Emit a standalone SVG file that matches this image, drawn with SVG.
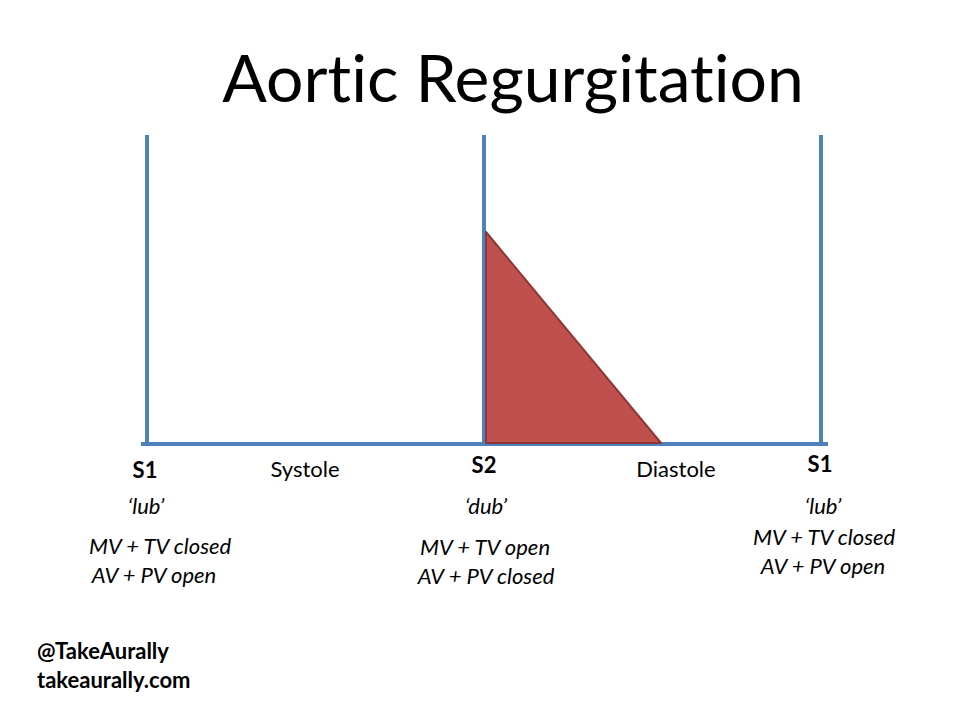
<svg xmlns="http://www.w3.org/2000/svg" width="960" height="720" viewBox="0 0 960 720">
<style>
.t{font-family:Lato,"Open Sans","Liberation Sans",sans-serif;fill:#000;font-variant-ligatures:none}
.ax{stroke:#4F81BD;stroke-width:4;fill:none}
.lbl{font-size:22px;text-anchor:middle}
.b{font-weight:bold}
.i{font-style:italic}
</style>
<rect width="960" height="720" fill="#fff"/>
<text class="t" x="513" y="102" font-size="66" text-anchor="middle">Aortic Regurgitation</text>
<g id="axes">
<line class="ax" x1="147" y1="135" x2="147" y2="446"/>
<line class="ax" x1="484" y1="135" x2="484" y2="446"/>
<line class="ax" x1="821" y1="135" x2="821" y2="446"/>
<line class="ax" x1="141" y1="444" x2="828" y2="444"/>
</g>
<g id="murmur">
<polygon points="486,232 486,443 661,443" fill="#C0504D" stroke="#8C3836" stroke-width="2" stroke-linejoin="round"/>
</g>
<g id="labels">
<text class="t lbl b" x="145" y="478">S1</text>
<text class="t lbl" x="305" y="477">Systole</text>
<text class="t lbl b" x="484" y="473">S2</text>
<text class="t lbl" x="676" y="477">Diastole</text>
<text class="t lbl b" x="820" y="472">S1</text>
<text class="t lbl i" x="146" y="514">‘lub’</text>
<text class="t lbl i" x="160" y="554">MV + TV closed</text>
<text class="t lbl i" x="154" y="583">AV + PV open</text>
<text class="t lbl i" x="486" y="514">‘dub’</text>
<text class="t lbl i" x="485" y="555">MV + TV open</text>
<text class="t lbl i" x="486" y="584">AV + PV closed</text>
<text class="t lbl i" x="823" y="514">‘lub’</text>
<text class="t lbl i" x="824" y="545">MV + TV closed</text>
<text class="t lbl i" x="823" y="574">AV + PV open</text>
<text class="t b" x="37" y="659" font-size="22">@TakeAurally</text>
<text class="t b" x="37" y="688" font-size="22">takeaurally.com</text>
</g>
</svg>
